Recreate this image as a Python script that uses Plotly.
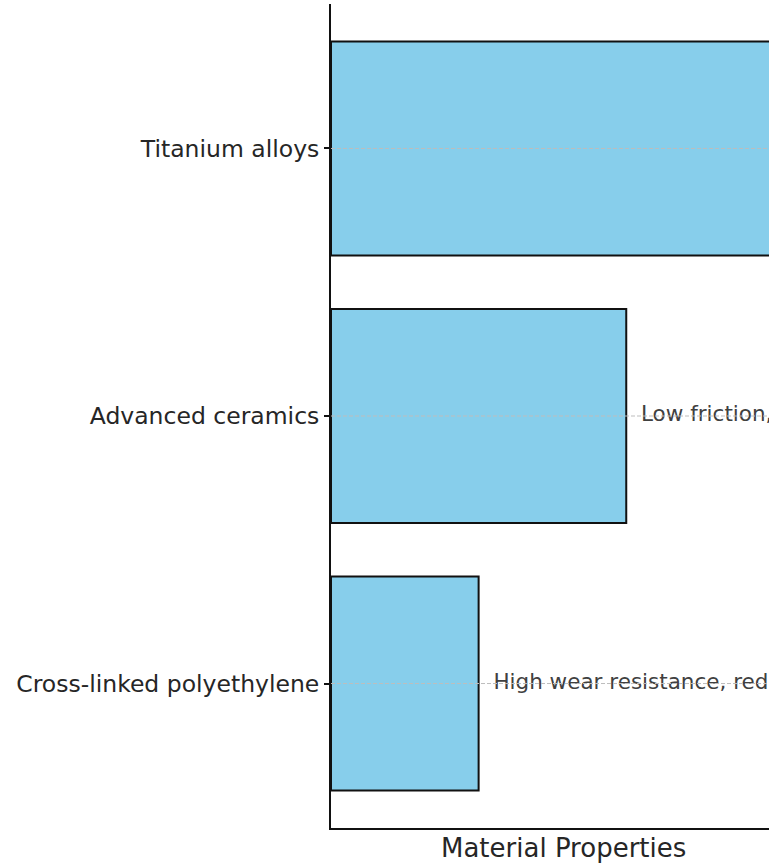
import plotly.graph_objects as go

# Materials listed bottom-to-top, as drawn on the horizontal bar chart
materials = ["Cross-linked polyethylene", "Advanced ceramics", "Titanium alloys"]
scores = [1, 2, 3]
notes = [
    "High wear resistance, reduced oxidation",
    "Low friction, high hardness",
    "High strength, corrosion resistance",
]

FONT = "DejaVu Sans"
TEXT_PAD = 0.1          # gap between a bar end and its note, in data units
X_FULL = max(scores) * 1.05   # full x extent of the axes
X_VIEW = 2.967                # part of the x extent shown on the page

fig = go.Figure()

fig.add_trace(go.Bar(
    y=materials,
    x=scores,
    orientation="h",
    width=0.8,
    marker=dict(color="#87CEEB", line=dict(color="#111111", width=2)),
    hoverinfo="skip",
))

fig.add_trace(go.Scatter(
    y=materials,
    x=[s + TEXT_PAD for s in scores],
    mode="text",
    text=notes,
    textposition="middle right",
    textfont=dict(family=FONT, size=21.5, color="#404040"),
    hoverinfo="skip",
    cliponaxis=True,
))

# dashed horizontal grid drawn over the bars and notes
for m in materials:
    fig.add_shape(
        type="line", xref="paper", x0=0, x1=1, yref="y", y0=m, y1=m,
        line=dict(color="#bdbdbd", width=1, dash="4px,2px"),
        layer="above",
    )

fig.add_annotation(
    x=X_FULL / 2, xref="x", y=-0.004, yref="paper",
    yanchor="top", xanchor="center", showarrow=False,
    text="Material Properties",
    font=dict(family=FONT, size=26, color="#262626"),
)

fig.update_layout(
    width=769, height=863,
    margin=dict(l=331, r=0, t=4, b=35),
    plot_bgcolor="white", paper_bgcolor="white",
    showlegend=False,
    bargap=0.2,
)
fig.update_xaxes(
    range=[0, X_VIEW], showgrid=False, zeroline=False,
    showticklabels=False, ticks="",
    showline=True, linecolor="#111111", linewidth=2,
)
fig.update_yaxes(
    categoryorder="array", categoryarray=materials,
    range=[-0.54, 2.54], showgrid=False, zeroline=False,
    showline=True, linecolor="#111111", linewidth=2,
    ticks="outside", ticklen=5, tickwidth=1.5, tickcolor="#111111",
    ticklabelstandoff=0,
    tickfont=dict(family=FONT, size=23.5, color="#262626"),
)

fig.write_html("out.html")
